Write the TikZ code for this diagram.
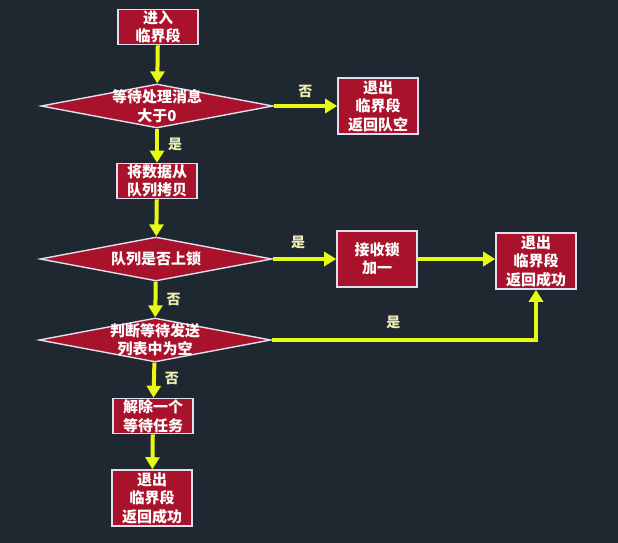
\documentclass[tikz,border=0pt]{standalone}
\usepackage{fontspec}
\setmainfont{Noto Sans CJK SC}
\usetikzlibrary{arrows.meta,shapes.geometric}

\definecolor{bgdark}{RGB}{31,39,49}
\definecolor{boxred}{RGB}{168,18,42}
\definecolor{edgewhite}{RGB}{225,222,240}
\definecolor{flowyellow}{RGB}{232,250,20}
\definecolor{labelyellow}{RGB}{238,238,180}

\tikzset{
    procbox/.style={rectangle, draw=edgewhite, line width=1.6pt, fill=boxred, text=white,
        minimum width=80pt, minimum height=35pt, inner sep=0pt, align=center,
        font=\bfseries\fontsize{15}{18.5}\selectfont},
    tallbox/.style={procbox, minimum height=56pt},
    decision/.style={diamond, draw=edgewhite, line width=1.4pt, fill=boxred,
        minimum width=232pt, minimum height=44pt, inner sep=0pt},
    dtext/.style={text=white, align=center, inner sep=0pt, font=\bfseries\fontsize{15}{18.5}\selectfont},
    flow/.style={draw=flowyellow, line width=4pt, -{Triangle[width=14pt,length=12pt]}},
    yesno/.style={text=labelyellow, inner sep=1pt, font=\bfseries\fontsize{14}{14}\selectfont},
}

\begin{document}
\begin{tikzpicture}[x=1pt, y=-1pt]
    \fill[bgdark] (0,0) rectangle (618,543);
    \useasboundingbox (0,0) rectangle (618,543);

    % Draw nodes
    \node[procbox] (enter) at (158,27) {进入\\临界段};
    \node[decision] (waitmsg) at (157,106) {};
    \node[dtext] (waitmsgtxt) at (waitmsg) {等待处理消息\\大于0};
    \node[tallbox] (exitempty) at (378,106) {退出\\临界段\\返回队空};
    \node[procbox] (copy) at (157,181) {将数据从\\队列拷贝};
    \node[decision] (locked) at (156,259) {};
    \node[dtext] (lockedtxt) at (locked) {队列是否上锁};
    \node[tallbox] (lockinc) at (377,259) {接收锁\\加一};
    \node[tallbox] (exitokright) at (536,261) {退出\\临界段\\返回成功};
    \node[decision] (sendlist) at (155,340) {};
    \node[dtext] (sendlisttxt) at (sendlist) {判断等待发送\\列表中为空};
    \node[procbox] (unblock) at (153,416) {解除一个\\等待任务};
    \node[tallbox] (exitok) at (152,498) {退出\\临界段\\返回成功};

    % Draw connections
    \draw[flow] (enter) -- (waitmsg);
    \draw[flow] (waitmsg.east) -- (exitempty.west) node[midway, above=5pt, yesno] {否};
    \draw[flow] (waitmsg) -- (copy) node[pos=0.45, right=8pt, yesno] {是};
    \draw[flow] (copy) -- (locked);
    \draw[flow] (locked.east) -- (lockinc.west) node[pos=0.4, above=7pt, yesno] {是};
    \draw[flow] (lockinc.east) -- (lockinc.east -| exitokright.west);
    \draw[flow] (locked) -- (sendlist) node[midway, right=8pt, yesno] {否};
    \draw[flow] (sendlist.east) -| (exitokright.south) node[pos=0.23, above=8pt, yesno] {是};
    \draw[flow] (sendlist) -- (unblock) node[pos=0.45, right=8pt, yesno] {否};
    \draw[flow] (unblock) -- (exitok);
\end{tikzpicture}
\end{document}
